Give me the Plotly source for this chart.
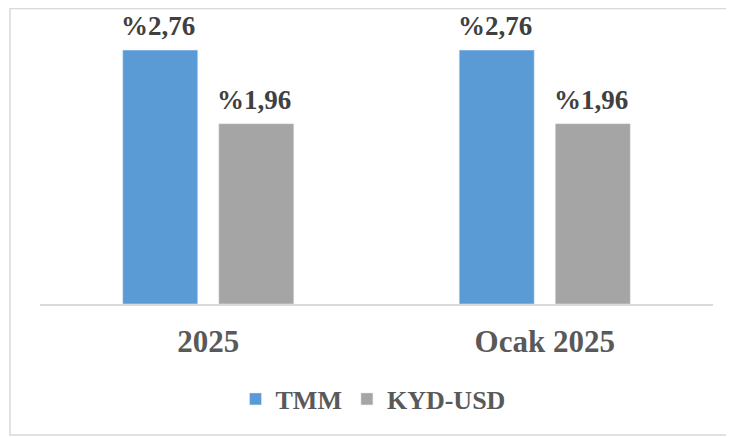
import plotly.graph_objects as go

categories = ["2025", "Ocak 2025"]
tmm_values = [2.76, 2.76]
kyd_values = [1.96, 1.96]
tmm_labels = ["%2,76", "%2,76"]
kyd_labels = ["%1,96", "%1,96"]

font_family = "Liberation Serif, Times New Roman, serif"
label_font = dict(size=27, color="#404040", family=font_family, weight="bold")

xpos = list(range(len(categories)))

fig = go.Figure()
fig.add_trace(go.Bar(name="TMM", x=xpos, y=tmm_values, marker_color="#5B9BD5"))
fig.add_trace(go.Bar(name="KYD-USD", x=xpos, y=kyd_values, marker_color="#A5A5A5"))

annotations = []
for i, v, t in zip(xpos, tmm_values, tmm_labels):
    annotations.append(dict(x=i, y=v, text=t, xshift=-50, yshift=7, yanchor="bottom",
                            showarrow=False, font=label_font))
for i, v, t in zip(xpos, kyd_values, kyd_labels):
    annotations.append(dict(x=i, y=v, text=t, xshift=46, yshift=7, yanchor="bottom",
                            showarrow=False, font=label_font))

# plot area in figure px: x 32..705, y 20..296
W, H = 673, 276
fig.update_layout(
    width=734, height=437,
    margin=dict(l=32, r=29, t=20, b=141, autoexpand=False),
    paper_bgcolor="white", plot_bgcolor="white",
    barmode="group", bargap=0.429, bargroupgap=0.219,
    font=dict(family=font_family, color="#595959"),
    showlegend=True,
    legend=dict(orientation="h", x=(365 - 32) / W, xanchor="center", y=(296 - 391) / H,
                yanchor="middle",
                font=dict(size=26, color="#595959", family=font_family, weight="bold"),
                traceorder="normal"),
    xaxis=dict(range=[-0.5, len(categories) - 0.5], tickmode="array", tickvals=xpos,
               ticktext=categories, showline=True, linecolor="#D9D9D9", linewidth=2,
               showgrid=False, zeroline=False, automargin=False,
               tickfont=dict(size=31, color="#595959", family=font_family, weight="bold"),
               ticklabelstandoff=9),
    yaxis=dict(range=[0, 3.0], visible=False, showgrid=False, automargin=False),
    annotations=annotations,
    shapes=[dict(type="rect", xref="paper", yref="paper",
                 x0=(2 - 32) / W, x1=(745 - 32) / W,
                 y0=(296 - 427) / H, y1=(296 - 0.5) / H,
                 line=dict(color="#D9D9D9", width=1.5), fillcolor="rgba(0,0,0,0)",
                 layer="below")],
)

fig.write_html("out.html")
